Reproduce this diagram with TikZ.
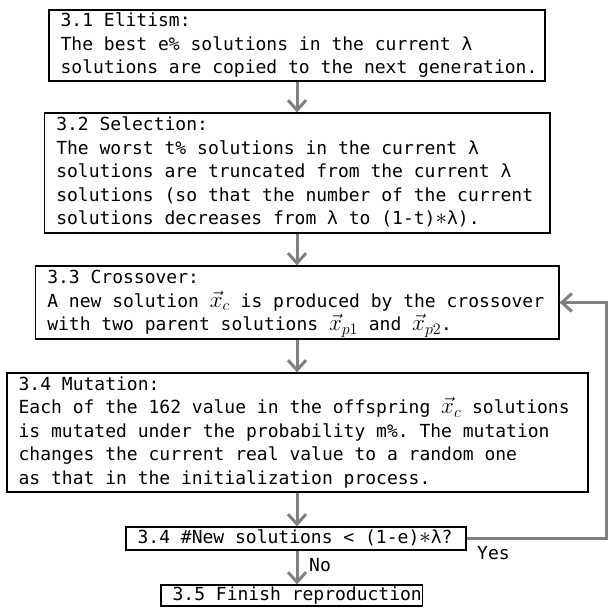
\RequirePackage{fix-cm}
\documentclass[tikz,border=0pt]{standalone}
\usepackage{fontspec}
\setmonofont{DejaVu Sans Mono}
\DeclareMathSizes{18}{23}{16}{12}
\usetikzlibrary{arrows.meta}
\tikzset{
  frame/.style={draw=black, line width=1.2pt, inner sep=0pt, rectangle},
  txt/.style={anchor=west, xshift=12pt, inner sep=0pt, align=left,
    font=\ttfamily\fontsize{18}{23.5}\selectfont},
  arr/.style={draw=black!50, line width=3pt,
    -{Straight Barb[length=10pt,width=18pt]}},
  lbl/.style={inner sep=0pt, font=\ttfamily\fontsize{18}{23.5}\selectfont}
}
\begin{document}
\begin{tikzpicture}[x=1pt,y=-1pt]
\useasboundingbox (0,0) rectangle (609,607);
\node[frame, minimum width=496pt, minimum height=71pt] (b1) at (297,45.5) {};
\node[frame, minimum width=505.3pt, minimum height=120pt] (b2) at (297.35,173) {};
\node[frame, minimum width=523.3pt, minimum height=73pt] (b3) at (297.35,302.5) {};
\node[frame, minimum width=581pt, minimum height=119pt] (b4) at (297.5,432.5) {};
\node[frame, minimum width=340pt, minimum height=23pt] (dec) at (296,538.5) {};
\node[frame, minimum width=261.5pt, minimum height=21pt] (b6) at (291.75,595.5) {};

\node[txt] (t1) at (b1.west) {\strut 3.1 Elitism:\\
\strut The best e\% solutions in the current λ\\
\strut solutions are copied to the next generation.};
\node[txt] (t2) at (b2.west) {\strut 3.2 Selection:\\
\strut The worst t\% solutions in the current λ\\
\strut solutions are truncated from the current λ\\
\strut solutions (so that the number of the current\\
\strut solutions decreases from λ to (1-t)$\ast$λ).};
\node[txt] (t3) at (b3.west) {\strut 3.3 Crossover:\\
\strut A new solution $\vec{x}_c$ is produced by the crossover\\
\strut with two parent solutions $\vec{x}_{p1}$ and $\vec{x}_{p2}$.};
\node[txt] (t4) at (b4.west) {\strut 3.4 Mutation:\\
\strut Each of the 162 value in the offspring $\vec{x}_c$ solutions\\
\strut is mutated under the probability m\%. The mutation\\
\strut changes the current real value to a random one\\
\strut as that in the initialization process.};
\node[txt] (t5) at (dec.west) {\strut 3.4 \#New solutions < (1-e)$\ast$λ?};
\node[txt] (t6) at (b6.west) {\strut 3.5 Finish reproduction};

\coordinate (ax) at (297,0);
\draw[arr] (b1.south -| ax) -- (b2.north -| ax);
\draw[arr] (b2.south -| ax) -- (b3.north -| ax);
\draw[arr] (b3.south -| ax) -- (b4.north -| ax);
\draw[arr] (b4.south -| ax) -- (dec.north -| ax);
\draw[arr] (dec.south -| ax) -- (b6.north -| ax);

\coordinate (c1) at (606,302.5);
\draw[arr] (dec.east) -| (c1) -- (b3.east);

\node[lbl, anchor=west] (yes) at (477,553) {Yes};
\node[lbl, anchor=west] (no) at (309,565) {No};
\end{tikzpicture}
\end{document}
